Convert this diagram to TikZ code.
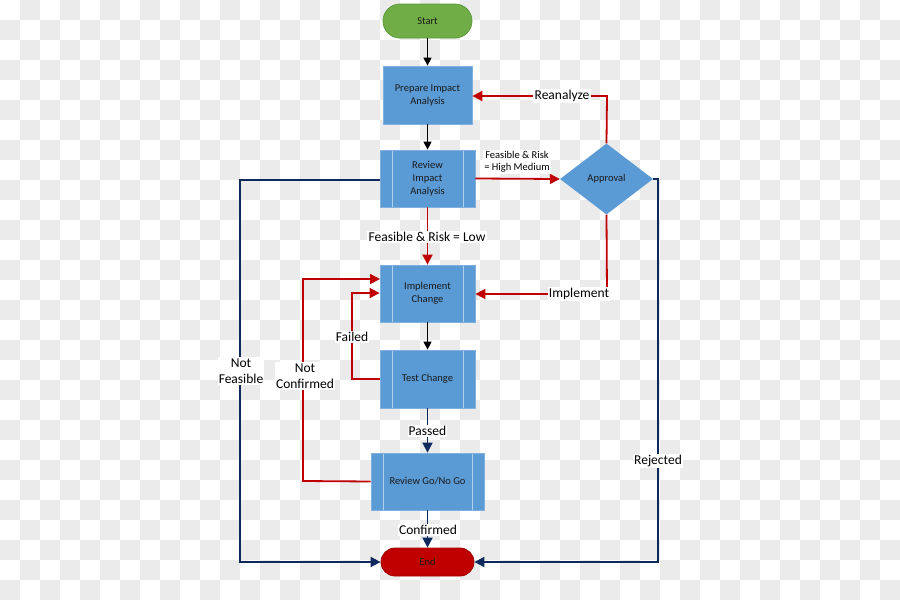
\documentclass[tikz,border=0pt]{standalone}
\usepackage{fontspec}
\setmainfont{Carlito}
\usetikzlibrary{shapes.geometric,arrows.meta,calc}
\definecolor{boxblue}{HTML}{5B9BD5}
\definecolor{boxedge}{HTML}{7FB0DF}
\definecolor{startgreen}{HTML}{70AD47}
\definecolor{startedge}{HTML}{5E9A3A}
\definecolor{endred}{HTML}{C00000}
\definecolor{endedge}{HTML}{A00000}
\definecolor{linered}{HTML}{C00000}
\definecolor{linenavy}{HTML}{0E2A5C}
\definecolor{tile}{HTML}{EBEBEB}
\tikzset{
  proc/.style={rectangle, fill=boxblue, draw=boxedge, line width=0.8pt, inner sep=0pt,
    align=center, font=\fontsize{10.5}{13}\selectfont, text=black!90},
  predef/.style={proc, path picture={
    \draw[boxedge!60!white, line width=0.8pt]
      ([xshift=12pt]path picture bounding box.north west) -- ([xshift=12pt]path picture bounding box.south west)
      ([xshift=-12pt]path picture bounding box.north east) -- ([xshift=-12pt]path picture bounding box.south east);}},
  term/.style={rectangle, rounded corners=14pt, inner sep=0pt, line width=0.8pt,
    font=\fontsize{10.5}{13}\selectfont, text=black!90},
  lab/.style={fill=white, inner sep=1.2pt, align=center, font=\fontsize{13.5}{16}\selectfont},
  smalllab/.style={fill=white, inner sep=1pt, align=center, font=\fontsize{10.5}{12}\selectfont},
  blk/.style={draw=black, line width=1.3pt, -{Triangle[length=8pt,width=8pt]}},
  redc/.style={draw=linered, line width=1.8pt, -{Triangle[length=10pt,width=10pt]}},
  navyc/.style={draw=linenavy, line width=1.8pt, -{Triangle[length=10pt,width=10pt]}}
}
\begin{document}
\begin{tikzpicture}[x=1pt,y=-1pt]
\useasboundingbox (0,0) rectangle (900,600);
\fill[white] (0,0) rectangle (900,600);
\foreach \j in {0,...,29} {
  \pgfmathsetmacro\ph{mod(\j+1,2)*20}
  \draw[tile, line width=20pt, dash pattern=on 20pt off 20pt, dash phase=\ph pt] (0,20*\j+10) -- (900,20*\j+10);
}
% nodes
\node[term, fill=startgreen, draw=startedge, minimum width=89pt, minimum height=34pt, rounded corners=17pt] (start) at (427.5,21) {Start};
\node[proc, minimum width=89pt, minimum height=58pt] (prep) at (427.5,95) {Prepare Impact\\Analysis};
\node[predef, minimum width=95pt, minimum height=57pt] (review) at (427.5,178.5) {Review\\Impact\\Analysis};
\node[diamond, fill=boxblue, inner sep=0pt, minimum width=93pt, minimum height=71pt, font=\fontsize{10.5}{13}\selectfont, text=black!90] (appr) at (606.5,179) {Approval};
\node[predef, minimum width=95pt, minimum height=57pt] (impl) at (427.5,293.5) {Implement\\Change};
\node[predef, minimum width=95pt, minimum height=58pt] (test) at (427.5,379) {Test Change};
\node[predef, minimum width=113pt, minimum height=57pt] (gonogo) at (427.5,481.5) {Review Go/No Go};
\node[term, fill=endred, draw=endedge, minimum width=93pt, minimum height=28pt] (end) at (427.5,562) {End};
% coordinates
\coordinate (reA) at (607,96);
\coordinate (imA) at (607,294);
\coordinate (nfA) at (240,180);
\coordinate (nfB) at (240,562);
\coordinate (rjA) at (658,179);
\coordinate (rjB) at (658,562);
\coordinate (faA) at (352,379);
\coordinate (faB) at (352,293);
\coordinate (ncA) at (303,481);
\coordinate (ncB) at (303,279);
\coordinate (ncC) at (380,279);
% black connectors
\draw[blk] (start) -- (prep);
\draw[blk] (prep) -- (review);
\draw[blk] (impl) -- (test);
% red connectors
\draw[redc] (review.east) -- (appr.west);
\draw[redc] (appr.north) -- (reA) -- (reA -| prep.east);
\draw[redc] (appr.south) -- (imA) -- (imA -| impl.east);
\draw[redc] (review.south) -- (impl.north);
\draw[redc] (test.west) -- (faA) -- (faB) -- (faB -| impl.west);
\draw[redc] (gonogo.west) -- (ncA) -- (ncB) -- (ncC);
% navy connectors
\draw[navyc] (review.west |- nfA) -- (nfA) -- (nfB) -- (end.west);
\draw[navyc] (appr.east) -- (rjA) -- (rjB) -- (end.east);
\draw[navyc] (test) -- (gonogo);
\draw[navyc] (gonogo) -- (end);
% labels
\node[smalllab] (l1) at (517,162) {Feasible \& Risk\\= High Medium};
\node[lab] (l2) at (562,96) {Reanalyze};
\node[lab] (l3) at (579,294) {Implement};
\node[lab] (l4) at (427,237) {Feasible \& Risk = Low};
\node[lab] (l5) at (241,371) {Not\\Feasible};
\node[lab] (l6) at (658,461) {Rejected};
\node[lab] (l7) at (352,337) {Failed};
\node[lab] (l8) at (305,376) {Not\\Confirmed};
\node[lab] (l9) at (427.5,431) {Passed};
\node[lab] (l10) at (428,530) {Confirmed};
\end{tikzpicture}
\end{document}
